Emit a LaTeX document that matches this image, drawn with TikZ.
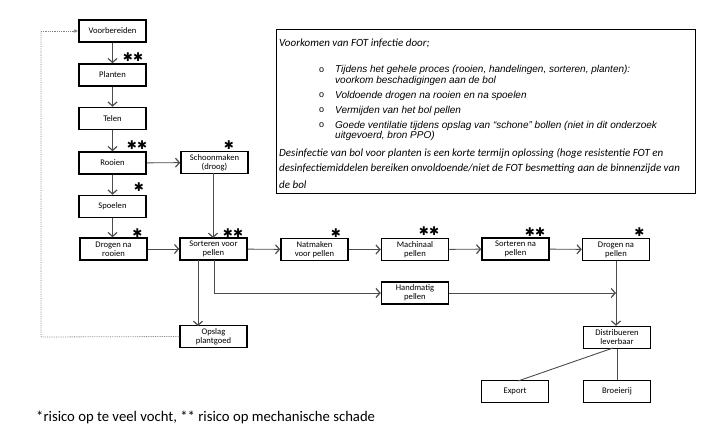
\documentclass[tikz,border=0pt]{standalone}
\usepackage{fontspec}
\setmainfont{Carlito}
\newfontfamily\arialf{Liberation Sans}
\newfontfamily\symf{DejaVu Sans}
\usetikzlibrary{arrows.meta}
\tikzset{
  box/.style={draw=black, line width=1.5pt, minimum width=67pt, minimum height=22pt, inner sep=1pt, align=center, font=\fontsize{8.6}{9}\selectfont},
  conn/.style={draw=black!70, line width=0.9pt},
  arr/.style={conn, -{Straight Barb[length=4pt,width=9pt,line width=1.2pt]}},
  dots/.style={draw=black!50, line width=0.8pt, densely dotted},
  star/.style={font=\symf\fontsize{12}{12}\selectfont, inner sep=0pt},
  info/.style={font=\itshape\fontsize{11}{12}\selectfont, anchor=west, inner sep=0pt},
  binfo/.style={font=\arialf\itshape\fontsize{10}{11}\selectfont, anchor=west, inner sep=0pt},
  bull/.style={font=\arialf\fontsize{9}{10}\selectfont, anchor=west, inner sep=0pt}
}
\begin{document}
\begin{tikzpicture}[x=1pt,y=-1pt]
\useasboundingbox (0,0) rectangle (716,444);
% left column
\node[box] (vb) at (112.5,31) {Voorbereiden};
\node[box] (pl) at (112.5,75) {Planten};
\node[box] (te) at (112.5,118.5) {Telen};
\node[box] (ro) at (112.5,163) {Rooien};
\node[box] (sp) at (112.5,206.5) {Spoelen};
\node[box] (dr) at (113.5,249) {Drogen na\\rooien};
\node[box] (sc) at (214.5,162.5) {Schoonmaken\\(droog)};
\node[box] (sv) at (213.5,249) {Sorteren voor\\pellen};
\node[box] (op) at (213.5,336.5) {Opslag\\plantgoed};
\node[box] (nm) at (314.5,249.5) {Natmaken\\voor pellen};
\node[box] (mp) at (415,249.5) {Machinaal\\pellen};
\node[box] (sn) at (515.5,249) {Sorteren na\\pellen};
\node[box] (dp) at (616,249.5) {Drogen na\\pellen};
\node[box] (hp) at (415,293) {Handmatig\\pellen};
\node[box] (di) at (617,337.5) {Distribueren\\leverbaar};
\node[box] (ex) at (515,391.5) {Export};
\node[box] (br) at (617,391.5) {Broeierij};
% coordinates
\coordinate (svA) at (198,260);
\coordinate (svB) at (214,260);
\coordinate (hj) at (214,293);
\coordinate (vj) at (616,293);
\coordinate (scB) at (213,173);
\coordinate (scT) at (213,238);
\coordinate (opB) at (198,326);
\coordinate (dl1) at (41,337);
\coordinate (dl2) at (41,31);
\coordinate (diB1) at (613,348);
\coordinate (exT) at (518,381);
% arrows
\draw[arr] (vb) -- (pl);
\draw[arr] (pl) -- (te);
\draw[arr] (te) -- (ro);
\draw[arr] (ro) -- (sp);
\draw[arr] (sp.south) -- (sp.south |- dr.north);
\draw[arr] (ro) -- (sc);
\draw[arr] (scB) -- (scT);
\draw[arr] (dr) -- (sv);
\draw[arr] (sv) -- (nm);
\draw[arr] (nm) -- (mp);
\draw[arr] (mp) -- (sn);
\draw[arr] (sn) -- (dp);
\draw[arr] (svA) -- (opB);
\draw[arr] (svB) -- (hj) -- (hp);
\draw[arr] (hp) -- (vj);
\draw[arr] (dp.south) -- (di.north -| dp.south);
\draw[conn] (diB1) -- (exT);
\draw[conn] (di.south) -- (br.north);
\draw[dots] (op.west) -- (dl1) -- (dl2);
\draw[dots, -{Latex[length=4pt,width=4pt]}] (dl2) -- (vb.west);
% stars
\node[star] (s1) at (133,57) {✱✱};
\node[star] (s2) at (137,145) {✱✱};
\node[star] (s3) at (229,145) {✱};
\node[star] (s4) at (139,187) {✱};
\node[star] (s5) at (137.5,233) {✱};
\node[star] (s6) at (233,233) {✱✱};
\node[star] (s7) at (336,233) {✱};
\node[star] (s8) at (429,231) {✱✱};
\node[star] (s9) at (535,232) {✱✱};
\node[star] (s10) at (639.5,232) {✱};
% info box
\node[draw=black, line width=0.8pt, minimum width=419pt, minimum height=164pt, anchor=north west, inner sep=0pt] (ib) at (276,29) {};
\node[info] (t0) at (279,43) {Voorkomen van FOT infectie door;};
\node[bull] (b1) at (319,70) {o};
\node[binfo] (l1) at (335,70) {Tijdens het gehele proces (rooien, handelingen, sorteren, planten):};
\node[binfo] (l1b) at (335,80.5) {voorkom beschadigingen aan de bol};
\node[bull] (b2) at (319,95.5) {o};
\node[binfo] (l2) at (335,95.5) {Voldoende drogen na rooien en na spoelen};
\node[bull] (b3) at (319,110.5) {o};
\node[binfo] (l3) at (335,110.5) {Vermijden van het bol pellen};
\node[bull] (b4) at (319,125.5) {o};
\node[binfo] (l4) at (335,125.5) {Goede ventilatie tijdens opslag van “schone” bollen  (niet in dit onderzoek};
\node[binfo] (l4b) at (335,136) {uitgevoerd, bron PPO)};
\node[info] (d1) at (279,153) {Desinfectie van bol voor planten is een korte termijn oplossing (hoge resistentie FOT en};
\node[info] (d2) at (279,169) {desinfectiemiddelen bereiken onvoldoende/niet de FOT besmetting aan de binnenzijde van};
\node[info] (d3) at (279,185) {de bol};
% caption
\node[font=\fontsize{14.7}{16}\selectfont, anchor=west, inner sep=0pt] (cap) at (36,417) {*risico op te veel vocht, ** risico op mechanische schade};
\end{tikzpicture}
\end{document}
